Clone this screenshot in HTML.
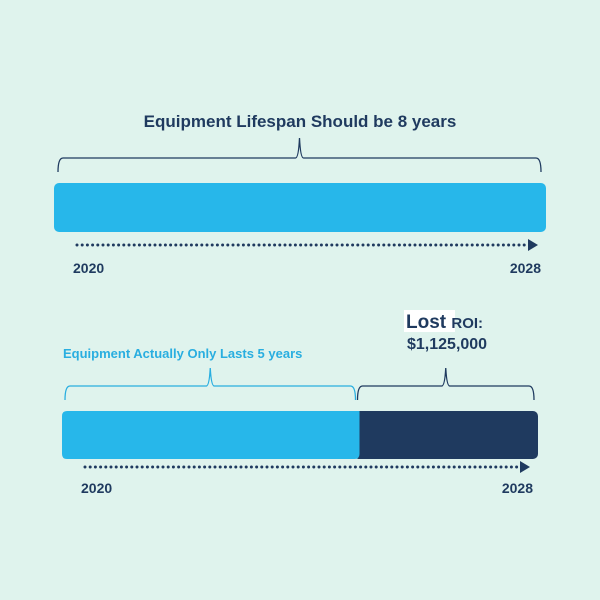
<!DOCTYPE html>
<html><head><meta charset="utf-8"><style>
html,body{margin:0;padding:0;width:600px;height:600px;background:#dff3ed;overflow:hidden}
svg{display:block}
text{font-family:"Liberation Sans",sans-serif;font-weight:bold}
</style></head><body>
<svg id="chart" width="600" height="600" viewBox="0 0 600 600">
<rect width="600" height="600" fill="#dff3ed"/>
<text x="300" y="127" text-anchor="middle" font-size="17" fill="#1f3a5f">Equipment Lifespan Should be 8 years</text>
<text x="63" y="358" font-size="13" fill="#29aee0">Equipment Actually Only Lasts 5 years</text>
<rect x="404" y="310" width="51" height="22" fill="#ffffff"/>
<text x="406" y="328" font-size="19" fill="#1f3a5f">Lost <tspan font-size="15">ROI:</tspan></text>
<text x="407" y="349" font-size="16" fill="#1f3a5f">$1,125,000</text>
<g id="marks"></g>
</svg>
<script>
const years = [2020, 2028];
const plannedYears = [8];
const actualYears = [5];
const NS = "http://www.w3.org/2000/svg";
const g = document.getElementById("marks");
function mk(tag, attrs){const e=document.createElementNS(NS,tag);for(const k in attrs)e.setAttribute(k,attrs[k]);g.appendChild(e);return e;}
function scale(x0,x1){return v=>x0+(v-years[0])/(years[1]-years[0])*(x1-x0);}
function brace(xa,xb,yTop,yPeak,color,name){
  const m=(xa+xb)/2, yb=yTop+14;
  const d=`M${xa},${yb} Q${xa},${yTop} ${xa+5},${yTop} L${m-4},${yTop} Q${m-1},${yTop} ${m},${yPeak} Q${m+1},${yTop} ${m+4},${yTop} L${xb-5},${yTop} Q${xb},${yTop} ${xb},${yb}`;
  const p=mk("path",{d:d,fill:"none",stroke:color,"stroke-width":1.3});
  
  
}
function axis(x0,x1,y,ty,pref){
  const l=mk("line",{x1:x0+23,y1:y,x2:x1-18,y2:y,stroke:"#1f3a5f","stroke-width":3,"stroke-dasharray":"0 5.2","stroke-linecap":"round"});
  
  
  const a=mk("path",{d:`M${x1-18},${y-6} L${x1-8},${y} L${x1-18},${y+6}Z`,fill:"#1f3a5f"});
  
  
  const t1=mk("text",{x:x0+19,y:ty,"font-size":14,fill:"#1f3a5f"});t1.textContent=years[0];
  
  
  const t2=mk("text",{x:x1-5,y:ty,"font-size":14,fill:"#1f3a5f","text-anchor":"end"});t2.textContent=years[1];
  
  
}
// top
const xt=scale(54,546);
const topEnd=xt(years[0]+plannedYears[0]);
const b1=mk("rect",{x:xt(years[0]),y:183,width:topEnd-xt(years[0]),height:49,rx:5,fill:"#27b7ea"});


brace(xt(years[0])+4,topEnd-5,158,138,"#1f3a5f",'planned-brace');
axis(54,546,245,273,'top');
// bottom
const xb=scale(62,538);
const split=xb(years[0]+actualYears[0]);
const end=xb(years[1]);
const b3=mk("rect",{x:split-6,y:411,width:end-split+6,height:48,rx:5,fill:"#1f3a5f"});


const b2=mk("path",{d:`M${xb(years[0])+5},411 L${split},411 Q${split-0},411 ${split},416 L${split},454 Q${split},459 ${split-5},459 L${xb(years[0])+5},459 Q${xb(years[0])},459 ${xb(years[0])},454 L${xb(years[0])},416 Q${xb(years[0])},411 ${xb(years[0])+5},411Z`,fill:"#27b7ea"});


brace(xb(years[0])+3,split-4,386,368,"#29aee0",'actual-brace');
brace(split-2,end-4,386,368,"#1f3a5f",'lost-brace');
axis(62,538,467,493,'bottom');
</script>
</body></html>
